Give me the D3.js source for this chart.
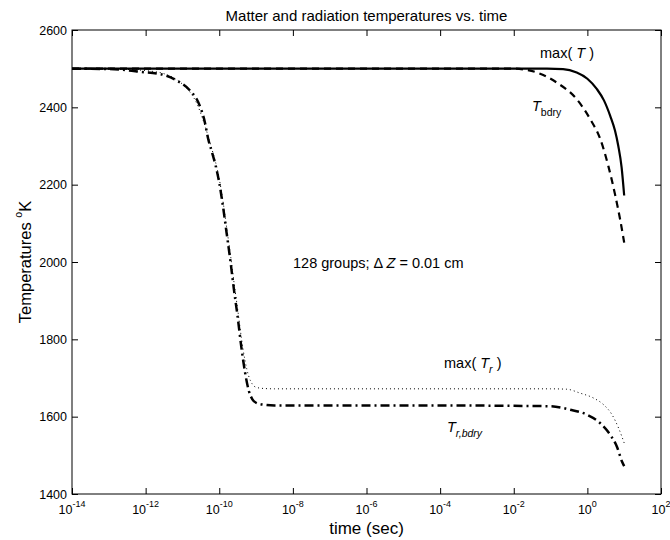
<!DOCTYPE html>
<html><head><meta charset="utf-8">
<script src="https://cdn.jsdelivr.net/npm/d3@7/dist/d3.min.js"></script>
<style>
body{margin:0;background:#fff;}
svg text{font-family:"Liberation Sans",Arial,Helvetica,sans-serif;fill:#000;}
</style></head>
<body><svg id="c" width="670" height="540"></svg>
<script>
// ---- data (time given as log10 of seconds) ----
const xTickExps = [-14,-12,-10,-8,-6,-4,-2,0,2];
const yTicks = [1400,1600,1800,2000,2200,2400,2600];

const maxT_exp = [-14,-8,-2,-1.1,-0.66,-0.29,0,0.26,0.45,0.62,0.75,0.84,0.93,1.0];
const maxT_val = [2500,2500,2500,2500,2499,2490,2474,2447,2418,2378,2340,2300,2245,2172];

const Tbdry_exp = [-14,-8,-2,-1.74,-1.37,-0.83,-0.29,0.08,0.35,0.57,0.76,0.89,1.0];
const Tbdry_val = [2500,2500,2500,2498,2490,2464,2421,2369,2318,2248,2171,2110,2050];

const maxTr_exp = [-14,-13,-12.5,-12,-11.5,-11.2,-11,-10.8,-10.6,-10.45,-10.3,-10.2,-10.1,-10,-9.9,-9.8,-9.7,-9.6,-9.5,-9.4,-9.3,-9.2,-9.1,-9,-8.8,-8.5,-4,-1,-0.56,-0.2,0.17,0.44,0.67,0.85,1.0];
const maxTr_val = [2500,2500,2498,2495,2487,2474,2460,2440,2408,2370,2325,2292,2258,2215,2158,2090,2022,1948,1878,1805,1745,1705,1684,1676,1673,1672,1672,1672,1671,1661,1648,1631,1605,1570,1532];

const Trb_exp = [-14,-13,-12.5,-12.15,-11.6,-11.15,-10.79,-10.57,-10.39,-10.3,-10.2,-10.1,-10,-9.9,-9.8,-9.7,-9.6,-9.5,-9.4,-9.3,-9.2,-9.1,-9,-8.8,-8.5,-4,-2,-1.01,-0.47,-0.01,0.35,0.62,0.8,0.94,1.0];
const Trb_val = [2500,2499,2496,2492,2486,2469,2443,2413,2361,2318,2285,2250,2205,2145,2075,2005,1928,1858,1780,1715,1668,1645,1636,1631,1629,1629,1628,1627,1618,1605,1583,1553,1523,1484,1472];

// ---- layout ----
const L=72, R=661, T=30, B=494;
const svg=d3.select('#c');
const x=d3.scaleLog().domain([1e-14,1e2]).range([L,R]);
const y=d3.scaleLinear().domain([1400,2600]).range([B,T]);

function series(e,v){return e.map((d,i)=>[Math.pow(10,d),v[i]]);}
const line=d3.line().x(d=>x(d[0])).y(d=>y(d[1])).curve(d3.curveMonotoneX);

const g=svg.append('g');
g.append('path').datum(series(maxTr_exp,maxTr_val)).attr('d',line)
 .attr('fill','none').attr('stroke','#000').attr('stroke-width',1).attr('stroke-dasharray','1,3');
g.append('path').datum(series(Trb_exp,Trb_val)).attr('d',line)
 .attr('fill','none').attr('stroke','#000').attr('stroke-width',2.5).attr('stroke-dasharray','9,4,2,4');
g.append('path').datum(series(Tbdry_exp,Tbdry_val)).attr('d',line)
 .attr('fill','none').attr('stroke','#000').attr('stroke-width',2.2).attr('stroke-dasharray','7,5');
g.append('path').datum(series(maxT_exp,maxT_val)).attr('d',line)
 .attr('fill','none').attr('stroke','#000').attr('stroke-width',2.2);

// axes (ticks inward, box)
const fs=12.5;
const xv=xTickExps.map(e=>Math.pow(10,e));
const xb=svg.append('g').attr('transform',`translate(0,${B})`)
 .call(d3.axisBottom(x).tickValues(xv).tickSizeInner(-6).tickSizeOuter(0).tickFormat(''));
const xt=svg.append('g').attr('transform',`translate(0,${T})`)
 .call(d3.axisTop(x).tickValues(xv).tickSizeInner(-6).tickSizeOuter(0).tickFormat(''));
const yl=svg.append('g').attr('transform',`translate(${L},0)`)
 .call(d3.axisLeft(y).tickValues(yTicks).tickSizeInner(-6).tickSizeOuter(0).tickPadding(4).tickFormat(d3.format('d')));
const yr=svg.append('g').attr('transform',`translate(${R},0)`)
 .call(d3.axisRight(y).tickValues(yTicks).tickSizeInner(-6).tickSizeOuter(0).tickFormat(''));
[xb,xt,yl,yr].forEach(a=>{a.select('.domain').remove();a.selectAll('line').attr('stroke','#000');});
yl.selectAll('text').attr('font-size',fs).attr('font-family','Liberation Sans, Arial').attr('dx',-1);
svg.append('rect').attr('x',L).attr('y',T).attr('width',R-L).attr('height',B-T)
 .attr('fill','none').attr('stroke','#000').attr('stroke-width',1);

// x tick labels 10^n
xTickExps.forEach(e=>{
  const t=svg.append('text').attr('x',x(Math.pow(10,e))).attr('y',B+20).attr('font-size',fs).attr('text-anchor','middle');
  t.append('tspan').text('10');
  t.append('tspan').attr('dy',-7).attr('font-size',9).text(String(e));
});

// axis labels & title
svg.append('text').attr('x',(L+R)/2).attr('y',B+40).attr('text-anchor','middle').attr('font-size',17).text('time (sec)');
const yt=svg.append('text').attr('transform',`translate(31,${(T+B)/2}) rotate(-90)`).attr('text-anchor','middle').attr('font-size',16.5);
yt.append('tspan').text('Temperatures ');
yt.append('tspan').attr('dy',-9).attr('font-size',10.5).text('o');
yt.append('tspan').attr('dy',9).text('K');
svg.append('text').attr('x',(L+R)/2).attr('y',T-9).attr('text-anchor','middle').attr('font-size',15).text('Matter and radiation temperatures vs. time');

// annotations
function lab(xp,yp,parts){const t=svg.append('text').attr('x',xp).attr('y',yp).attr('font-size',14.5);
  parts.forEach(p=>{const s=t.append('tspan').text(p.t);if(p.i)s.attr('font-style','italic');if(p.dy)s.attr('dy',p.dy);if(p.fs)s.attr('font-size',p.fs);});return t;}
lab(540,58,[{t:'max( '},{t:'T',i:1},{t:' )'}]);
lab(532,111,[{t:'T',i:1},{t:'bdry',dy:5,fs:10.5}]);
lab(293,268,[{t:'128 groups;  \u0394 '},{t:'Z',i:1},{t:' = 0.01 cm'}]);
lab(444,368,[{t:'max( '},{t:'T',i:1},{t:'r',i:1,dy:5,fs:10.5},{t:' )',dy:-5}]);
lab(447,432,[{t:'T',i:1},{t:'r,bdry',i:1,dy:5,fs:10.5}]);
</script></body></html>
